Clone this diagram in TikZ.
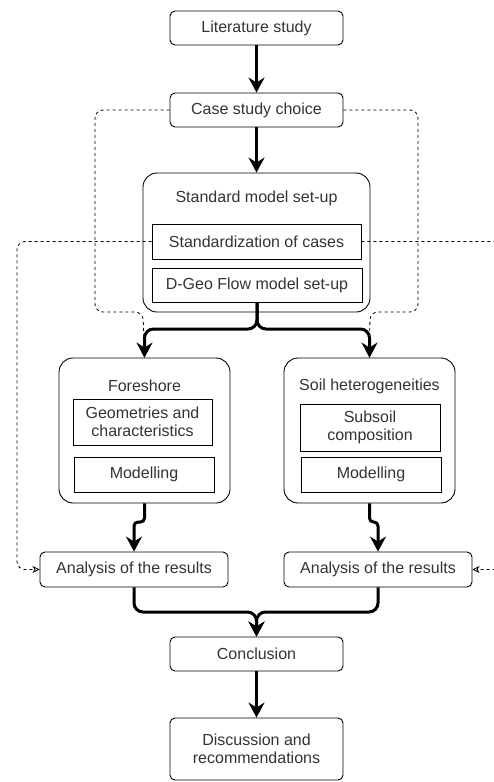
\documentclass[tikz,border=0pt]{standalone}
\usepackage{fontspec}
\setmainfont{Liberation Sans}
\usetikzlibrary{arrows.meta}
\definecolor{txt}{HTML}{333333}
\begin{document}
\begin{tikzpicture}[x=1pt,y=-1pt,
  box/.style={draw=black, line width=0.9pt, rounded corners=5pt, inner sep=0pt, align=center, text=txt, font=\fontsize{16}{18}\selectfont},
  sqbox/.style={box, rounded corners=0pt},
  bigbox/.style={box, rounded corners=14pt},
  title/.style={inner sep=0pt, text=txt, font=\fontsize{16}{18}\selectfont},
  thick arrow/.style={line width=3pt, rounded corners=9pt, -{Stealth[length=15pt,width=16pt,inset=5pt]}},
  dash arrow/.style={line width=0.8pt, dash pattern=on 3pt off 3pt, rounded corners=8pt, -{Stealth[open,length=7pt,width=7pt,inset=2pt]}}]
\useasboundingbox (0,0) rectangle (493,782);

% main boxes
\node[box, minimum width=173pt, minimum height=34pt] (lit) at (256.5,28) {Literature study};
\node[box, minimum width=173pt, minimum height=34pt] (case) at (256.5,110) {Case study choice};

\node[bigbox, minimum width=227pt, minimum height=139pt] (std) at (256.5,242.5) {};
\node[title] (stdt) at (256.5,198) {Standard model set-up};
\node[sqbox, minimum width=209pt, minimum height=35pt] (stdz) at (256.5,241.5) {Standardization of cases};
\node[sqbox, minimum width=210pt, minimum height=34pt] (dgeo) at (257,285) {D-Geo Flow model set-up};

\node[bigbox, minimum width=171pt, minimum height=145pt] (fore) at (144.5,430.5) {};
\node[title] (foret) at (144.5,386) {Foreshore};
\node[sqbox, minimum width=139pt, minimum height=46pt] (geom) at (142.5,422) {Geometries and\\characteristics};
\node[sqbox, minimum width=140pt, minimum height=35pt] (fmod) at (144,474.5) {Modelling};

\node[bigbox, minimum width=171pt, minimum height=145pt] (soil) at (369.5,430.5) {};
\node[title] (soilt) at (369.5,386) {Soil heterogeneities};
\node[sqbox, minimum width=140pt, minimum height=47pt] (sub) at (370,427.5) {Subsoil\\composition};
\node[sqbox, minimum width=140pt, minimum height=35pt] (smod) at (371,474.5) {Modelling};

\node[box, minimum width=188pt, minimum height=35pt] (anl) at (134,569.5) {Analysis of the results};
\node[box, minimum width=188pt, minimum height=35pt] (anr) at (378,569.5) {Analysis of the results};

\node[box, minimum width=173pt, minimum height=34pt] (concl) at (256.5,654) {Conclusion};
\node[box, minimum width=173pt, minimum height=62pt] (disc) at (256.5,749) {Discussion and\\recommendations};

% dashed connectors
\coordinate (offr) at (520,569.5);
\draw[dash arrow] (case.west) -- (95,110) -- (95,312) -- (143,312) -- (fore.north);
\draw[dash arrow] (case.east) -- (418,110) -- (418,312) -- (370,312) -- (soil.north);
\draw[dash arrow] (stdz.west) -- (17,241.5) -- (17,569.5) -- (anl.west);
\draw[dash arrow] (stdz.east) -- (520,241.5) -- (offr) -- (anr.east);

% thick connectors
\draw[thick arrow] (lit.south) -- (case.north);
\draw[thick arrow] (case.south) -- (std.north);
\draw[thick arrow] (dgeo.south) -- (257,329) -- (144.5,329) -- (fore.north);
\draw[thick arrow] (dgeo.south) -- (257,329) -- (369.5,329) -- (soil.north);
\draw[thick arrow, rounded corners=4pt] (fore.south) -- (144.5,522) -- (134,522) -- (anl.north);
\draw[thick arrow, rounded corners=4pt] (soil.south) -- (369.5,522) -- (378,522) -- (anr.north);
\draw[thick arrow] (anl.south) -- (134,612) -- (256.5,612) -- (concl.north);
\draw[thick arrow] (anr.south) -- (378,612) -- (256.5,612) -- (concl.north);
\draw[thick arrow] (concl.south) -- (disc.north);
\end{tikzpicture}
\end{document}
